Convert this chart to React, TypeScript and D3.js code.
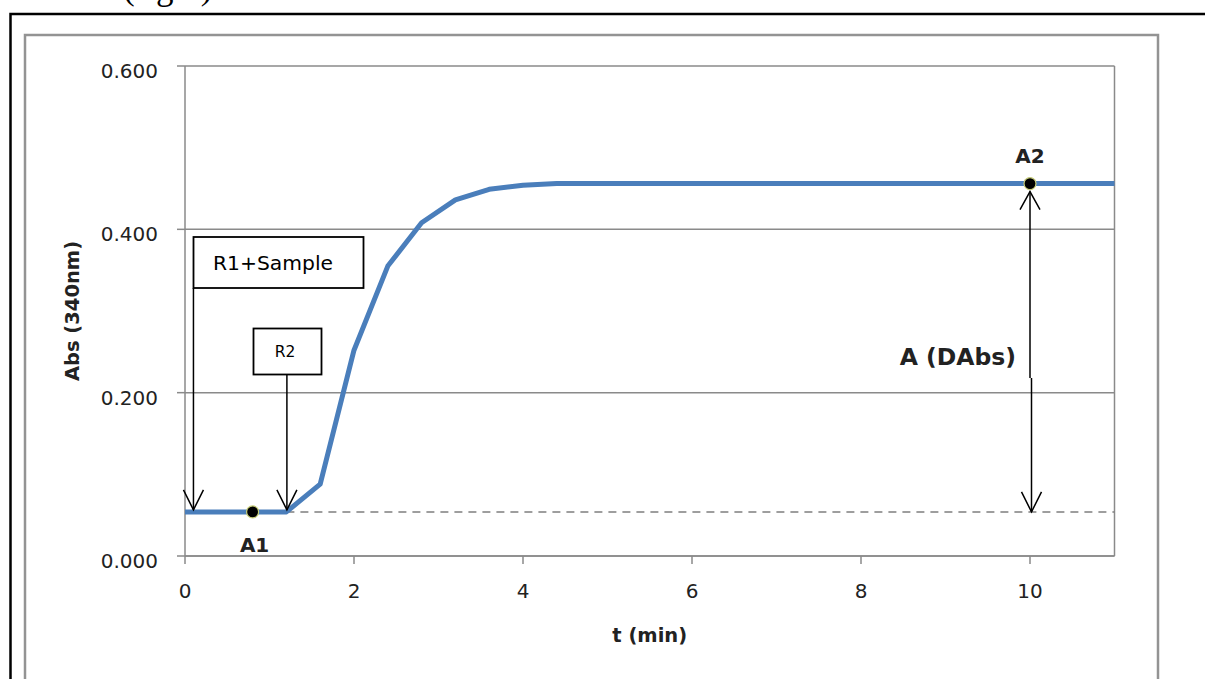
import React from "react";
import * as d3 from "d3";

// ---- data ----
const times = [0, 0.4, 0.8, 1.2, 1.6, 2.0, 2.4, 2.8, 3.2, 3.6, 4.0, 4.4, 6, 8, 10, 11];
const absValues = [0.054, 0.054, 0.054, 0.054, 0.088, 0.252, 0.355, 0.408, 0.436, 0.449, 0.454, 0.456, 0.456, 0.456, 0.456, 0.456];
const yTicks = [0, 0.2, 0.4, 0.6];
const xTicks = [0, 2, 4, 6, 8, 10];
const baselineAbs = 0.054;
const baselineStart = 1.2;
const pointA1 = { t: 0.8, v: 0.054, label: "A1" };
const pointA2 = { t: 10, v: 0.456, label: "A2" };
const r1Time = 0.1;
const r2Time = 1.2;

const W = 1205;
const H = 679;
const FONT = "'DejaVu Sans', sans-serif";

export default function App() {
  const x = d3.scaleLinear().domain([0, 11]).range([185, 1114.5]);
  const y = d3.scaleLinear().domain([0, 0.6]).range([556, 66]);
  const line = d3
    .line<number>()
    .x((_, i) => x(times[i]))
    .y((d) => y(d));
  const grid = "#8a8a8a";

  const arrowDown = (cx: number, tipY: number) =>
    `M${cx - 10},${tipY - 20} L${cx},${tipY} L${cx + 10},${tipY - 20}`;
  const arrowUp = (cx: number, tipY: number) =>
    `M${cx - 10},${tipY + 18} L${cx},${tipY} L${cx + 10},${tipY + 18}`;

  const yb = y(baselineAbs);
  const r1x = x(r1Time);
  const r2x = x(r2Time) + 0.5;
  const a2x = x(pointA2.t);
  const a2y = y(pointA2.v);

  return (
    <svg
      width={W}
      height={H}
      style={{ position: "absolute", left: 0, top: 0, background: "#fff" }}
      fontFamily={FONT}
    >
      <rect x={0} y={0} width={W} height={H} fill="#fff" />
      {/* partially visible caption at top */}
      <text x={123} y={-1} fontFamily="'Liberation Serif', serif" fontSize={35} fill="#000">
        (right)
      </text>
      {/* outer black frame */}
      <rect x={10.5} y={14} width={1400} height={900} fill="none" stroke="#000" strokeWidth={2.5} />
      {/* chart area frame */}
      <rect x={25} y={35} width={1133} height={900} fill="#fff" stroke="#939393" strokeWidth={2.5} />

      {/* gridlines */}
      {yTicks.map((t) => (
        <line key={"g" + t} x1={x(0)} x2={x(11)} y1={y(t)} y2={y(t)} stroke={grid} strokeWidth={1.5} />
      ))}
      {/* right border of plot */}
      <line x1={x(11)} x2={x(11)} y1={y(0.6)} y2={y(0)} stroke={grid} strokeWidth={1.5} />
      {/* axes */}
      <line x1={x(0)} x2={x(0)} y1={y(0.6)} y2={y(0)} stroke={grid} strokeWidth={1.5} />
      <line x1={x(0)} x2={x(11)} y1={y(0)} y2={y(0)} stroke={grid} strokeWidth={1.5} />
      {yTicks.map((t) => (
        <g key={"yt" + t}>
          <line x1={x(0) - 8} x2={x(0)} y1={y(t)} y2={y(t)} stroke={grid} strokeWidth={1.5} />
          <text x={158} y={y(t) + 12} textAnchor="end" fontSize={20} fill="#222">
            {d3.format(".3f")(t)}
          </text>
        </g>
      ))}
      {xTicks.map((t) => (
        <g key={"xt" + t}>
          <line x1={x(t)} x2={x(t)} y1={y(0)} y2={y(0) + 8} stroke={grid} strokeWidth={1.5} />
          <text x={x(t)} y={598} textAnchor="middle" fontSize={20} fill="#222">
            {t}
          </text>
        </g>
      ))}
      {/* axis titles */}
      <text
        transform={`translate(79, ${(y(0) + y(0.6)) / 2}) rotate(-90)`}
        textAnchor="middle"
        fontSize={19.5}
        fontWeight="bold"
        fill="#222"
      >
        Abs (340nm)
      </text>
      <text x={(x(0) + x(11)) / 2} y={642} textAnchor="middle" fontSize={19.5} fontWeight="bold" fill="#222">
        t (min)
      </text>

      {/* dashed baseline */}
      <line
        x1={x(baselineStart)}
        x2={x(11)}
        y1={yb}
        y2={yb}
        stroke="#7f7f7f"
        strokeWidth={1.5}
        strokeDasharray="8,6"
      />

      {/* data line */}
      <path d={line(absValues) || ""} fill="none" stroke="#4A7EBB" strokeWidth={5} strokeLinejoin="round" />

      {/* markers */}
      {[pointA1, pointA2].map((p) => (
        <circle key={p.label} cx={x(p.t)} cy={y(p.v)} r={6} fill="#000" stroke="#c9cf7a" strokeWidth={1.2} />
      ))}
      <text x={x(pointA1.t) + 2} y={552} textAnchor="middle" fontSize={20} fontWeight="bold" fill="#222">
        {pointA1.label}
      </text>
      <text x={a2x} y={163} textAnchor="middle" fontSize={20} fontWeight="bold" fill="#222">
        {pointA2.label}
      </text>

      {/* R1+Sample box and arrow */}
      <rect x={193.5} y={237} width={170} height={51} fill="#fff" stroke="#000" strokeWidth={1.8} />
      <text x={213} y={270} fontSize={20.3} fill="#000">
        R1+Sample
      </text>
      <line x1={r1x} x2={r1x} y1={288} y2={yb - 2} stroke="#000" strokeWidth={1.5} />
      <path d={arrowDown(r1x, yb - 2)} fill="none" stroke="#000" strokeWidth={1.5} />

      {/* R2 box and arrow */}
      <rect x={253.5} y={328.5} width={68} height={46} fill="#fff" stroke="#000" strokeWidth={1.8} />
      <text x={285} y={357} textAnchor="middle" fontSize={15.5} fill="#000">
        R2
      </text>
      <line x1={r2x} x2={r2x} y1={374.5} y2={yb - 2} stroke="#000" strokeWidth={1.5} />
      <path d={arrowDown(r2x, yb - 2)} fill="none" stroke="#000" strokeWidth={1.5} />

      {/* A (DAbs) double arrow */}
      <line x1={a2x} x2={a2x} y1={a2y + 8} y2={378} stroke="#000" strokeWidth={1.5} />
      <line x1={a2x + 1.5} x2={a2x + 1.5} y1={378} y2={yb} stroke="#000" strokeWidth={1.5} />
      <path d={arrowUp(a2x, a2y + 8)} fill="none" stroke="#000" strokeWidth={1.5} />
      <path d={arrowDown(a2x + 1.5, yb)} fill="none" stroke="#000" strokeWidth={1.5} />
      <text x={1016} y={365} textAnchor="end" fontSize={23.5} fontWeight="bold" fill="#222">
        A (DAbs)
      </text>
    </svg>
  );
}
